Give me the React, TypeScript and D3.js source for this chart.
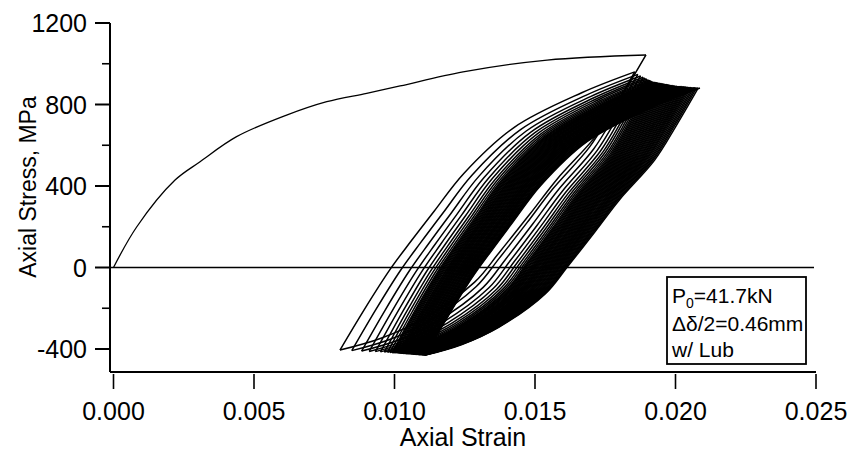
import React from 'react';
import * as d3 from 'd3';

const W = 848;
const H = 450;
const FONT = '"Liberation Sans", Arial, Helvetica, sans-serif';

// first (monotonic) loading curve, strain in 1e-3
const monoStrain = [0, 0.83, 2.19, 3.08, 4.38, 6.16, 7.59, 9.01, 10.2, 12.44, 15.43, 18.95];
const monoStress = [0, 200, 429, 519, 642, 748, 814, 855, 891, 960, 1018, 1043];

// shape of a reloading branch (valley -> peak), normalised 0..1, traced off the outer loop
const loadU = [0, 0.085, 0.17, 0.24, 0.32, 0.42, 0.59, 0.82, 1];
const loadV = [0, 0.15, 0.29, 0.39, 0.5, 0.635, 0.8, 0.925, 1];
// shape of an unloading branch (peak -> valley), normalised the same way
const unloadU = [1, 0.92, 0.84, 0.71, 0.62, 0.52, 0.44, 0.27, 0.134, 0];
const unloadV = [1, 0.86, 0.73, 0.58, 0.46, 0.33, 0.23, 0.105, 0.04, 0];

// cycle peaks (strain 1e-3, MPa); first one is the end of the monotonic curve
const peakStrain = [
  18.95, 18.55, 18.66, 18.76, 18.85, 18.92, 18.98, 19.04, 19.09, 19.14, 19.18,
  19.22, 19.26, 19.30, 19.34, 19.38, 19.42, 19.46, 19.50, 19.54, 19.58,
  19.62, 19.66, 19.70, 19.74, 19.78, 19.82, 19.86, 19.90, 19.94, 19.98,
  20.02, 20.06, 20.10, 20.14, 20.18, 20.22, 20.26, 20.30, 20.34, 20.38,
  20.42, 20.46, 20.50, 20.55, 20.60, 20.65, 20.70, 20.75, 20.81, 20.87,
];
const peakStress = [
  1043, 960, 948, 940, 934, 929, 925, 921, 918, 915, 912,
  910, 909, 908, 907, 906, 905, 904, 903, 902, 901,
  900, 899, 898, 897, 896, 895, 894, 893, 892, 891,
  890, 890, 889, 889, 888, 888, 887, 887, 886, 886,
  885, 885, 884, 884, 883, 883, 882, 882, 881, 881,
];
// cycle valleys
const valleyStrain = [
  8.06, 8.48, 8.83, 9.10, 9.32, 9.50, 9.64, 9.75, 9.84, 9.91,
  9.95, 9.99, 10.03, 10.07, 10.11, 10.15, 10.18, 10.21, 10.24, 10.27,
  10.30, 10.33, 10.36, 10.39, 10.42, 10.45, 10.48, 10.51, 10.54, 10.57,
  10.60, 10.63, 10.66, 10.69, 10.72, 10.75, 10.78, 10.81, 10.84, 10.87,
  10.90, 10.93, 10.96, 10.99, 11.02, 11.04, 11.06, 11.08, 11.09, 11.10,
];
const valleyStress = [
  -405, -408, -410, -412, -413, -414, -415, -416, -417, -418,
  -418, -418, -419, -419, -420, -420, -420, -421, -421, -421,
  -422, -422, -422, -423, -423, -423, -424, -424, -424, -425,
  -425, -425, -426, -426, -426, -427, -427, -427, -428, -428,
  -428, -428, -429, -429, -429, -429, -430, -430, -430, -430,
];

const yTicks = [-400, 0, 400, 800, 1200];
const yMinor = [-200, 200, 600, 1000];
const xTicks = [0, 0.005, 0.01, 0.015, 0.02, 0.025];

const x = d3.scaleLinear().domain([0, 0.025]).range([113.5, 816]);
const y = d3.scaleLinear().domain([-400, 1200]).range([349, 23]);

const line = d3
  .line<[number, number]>()
  .x((d) => x(d[0]))
  .y((d) => y(d[1]))
  .curve(d3.curveCatmullRom.alpha(0.5));

function branch(
  us: number[],
  vs: number[],
  e0: number,
  s0: number,
  e1: number,
  s1: number
): [number, number][] {
  return us.map((u, k) => [(e0 + u * (e1 - e0)) / 1000, s0 + vs[k] * (s1 - s0)]);
}

const App: React.FC = () => {
  const paths: string[] = [];
  valleyStrain.forEach((ev, i) => {
    const sv = valleyStress[i];
    paths.push(line(branch(unloadU, unloadV, ev, sv, peakStrain[i], peakStress[i]))!);
    paths.push(line(branch(loadU, loadV, ev, sv, peakStrain[i + 1], peakStress[i + 1]))!);
  });
  const mono = line(monoStrain.map((e, i) => [e / 1000, monoStress[i]]))!;

  const axisX = 110;
  const axisY = 372;
  const fmt = d3.format('.3f');

  return (
    <svg
      width={W}
      height={H}
      style={{ position: 'absolute', left: 0, top: 0, background: '#fff' }}
      fontFamily={FONT}
    >
      <rect width={W} height={H} fill="#fff" />
      <g fill="none" stroke="#000" strokeWidth={1.5} strokeLinejoin="round">
        {paths.map((d, i) => (
          <path key={i} d={d} />
        ))}
        <path d={mono} strokeWidth={1.3} />
      </g>

      {/* zero line */}
      <line x1={axisX} x2={814} y1={y(0)} y2={y(0)} stroke="#000" strokeWidth={1.6} />

      {/* y axis */}
      <line x1={axisX} x2={axisX} y1={y(1200)} y2={axisY} stroke="#000" strokeWidth={2} />
      {yTicks.map((t) => (
        <g key={t}>
          <line x1={axisX - 15} x2={axisX} y1={y(t)} y2={y(t)} stroke="#000" strokeWidth={2} />
          <text x={87} y={y(t)} dy="0.36em" textAnchor="end" fontSize={25}>
            {t}
          </text>
        </g>
      ))}
      {yMinor.map((t) => (
        <line key={t} x1={axisX - 8} x2={axisX} y1={y(t)} y2={y(t)} stroke="#000" strokeWidth={1.6} />
      ))}
      <text transform="translate(36,187) rotate(-90)" textAnchor="middle" fontSize={23}>
        Axial Stress, MPa
      </text>

      {/* x axis */}
      <line x1={axisX} x2={816} y1={axisY} y2={axisY} stroke="#000" strokeWidth={2} />
      {xTicks.map((t) => (
        <g key={t}>
          <line x1={x(t)} x2={x(t)} y1={axisY + 2} y2={axisY + 17} stroke="#000" strokeWidth={1.6} />
          <text x={x(t)} y={420} textAnchor="middle" fontSize={25}>
            {fmt(t)}
          </text>
        </g>
      ))}
      <text x={463} y={446} textAnchor="middle" fontSize={25}>
        Axial Strain
      </text>

      {/* legend */}
      <rect x={667} y={277} width={139} height={87} fill="#fff" stroke="#000" strokeWidth={1.8} />
      <text x={672} y={303} fontSize={21}>
        P<tspan fontSize={14} dy={5}>0</tspan>
        <tspan dy={-5}>=41.7kN</tspan>
      </text>
      <text x={672} y={331} fontSize={21}>
        Δδ/2=0.46mm
      </text>
      <text x={672} y={357} fontSize={21}>
        w/ Lub
      </text>
    </svg>
  );
};

export default App;
